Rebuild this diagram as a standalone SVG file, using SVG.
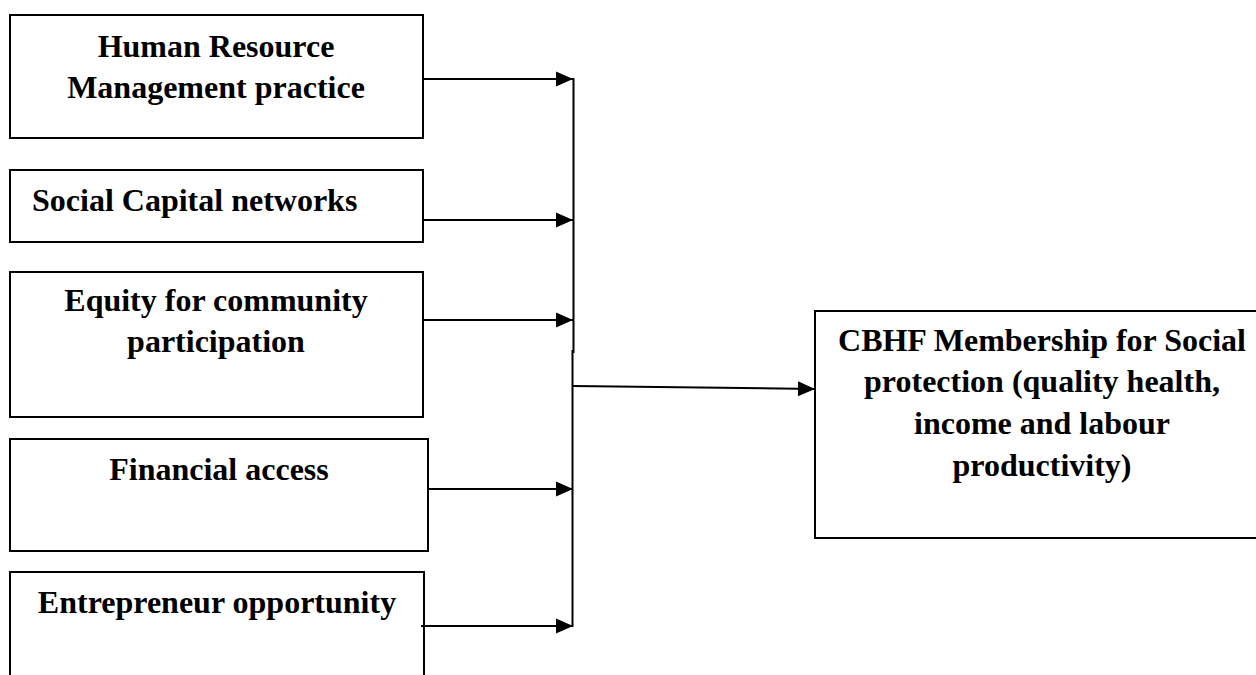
<svg xmlns="http://www.w3.org/2000/svg" width="1256" height="675" viewBox="0 0 1256 675">
<defs>
<style>
.box{fill:#fff;stroke:#000;stroke-width:2}
.t{font-family:"Liberation Serif","Times New Roman",serif;font-weight:bold;font-size:32px;fill:#000}
.c{text-anchor:middle}
.ln{fill:none;stroke:#000;stroke-width:2}
</style>
<marker id="ah" markerUnits="userSpaceOnUse" markerWidth="20" markerHeight="18" refX="18" refY="9" orient="auto">
<path d="M1,1.5 L18,9 L1,16.5 Z" fill="#000"/>
</marker>
</defs>
<g id="n1"><rect class="box" x="10" y="15" width="413" height="123"/>
<text class="t c" x="216" y="57">Human Resource</text>
<text class="t c" x="216" y="98">Management practice</text></g>
<g id="n2"><rect class="box" x="10" y="170" width="413" height="72"/>
<text class="t" x="32" y="211">Social Capital networks</text></g>
<g id="n3"><rect class="box" x="10" y="272" width="413" height="145"/>
<text class="t c" x="216" y="311">Equity for community</text>
<text class="t c" x="216" y="352">participation</text></g>
<g id="n4"><rect class="box" x="10" y="439" width="418" height="112"/>
<text class="t c" x="219" y="480">Financial access</text></g>
<g id="n5"><rect class="box" x="10" y="572" width="414" height="130"/>
<text class="t c" x="217" y="613">Entrepreneur opportunity</text></g>
<g id="n6"><rect class="box" x="815" y="311" width="460" height="227"/>
<text class="t c" x="1042" y="351">CBHF Membership for Social</text>
<text class="t c" x="1042" y="392">protection (quality health,</text>
<text class="t c" x="1042" y="434">income and labour</text>
<text class="t c" x="1042" y="476">productivity)</text></g>
<g id="connectors">
<line class="ln" x1="423" y1="79" x2="573" y2="79" marker-end="url(#ah)"/>
<line class="ln" x1="423" y1="220" x2="573" y2="220" marker-end="url(#ah)"/>
<line class="ln" x1="423" y1="320" x2="573" y2="320" marker-end="url(#ah)"/>
<line class="ln" x1="428" y1="489" x2="573" y2="489" marker-end="url(#ah)"/>
<line class="ln" x1="421" y1="626" x2="573" y2="626" marker-end="url(#ah)"/>
<line class="ln" x1="573.5" y1="78" x2="573.5" y2="353"/>
<line class="ln" x1="572.5" y1="350" x2="572.5" y2="627"/>
<line class="ln" x1="573" y1="386" x2="815" y2="389" marker-end="url(#ah)"/>
</g>
</svg>
